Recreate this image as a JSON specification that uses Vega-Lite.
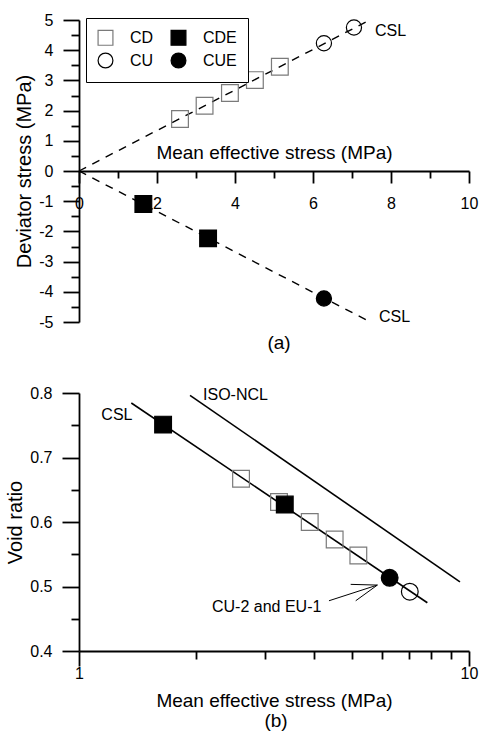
{
  "$schema": "https://vega.github.io/schema/vega-lite/v6.json",
  "background": "white",
  "padding": {"left": 5, "top": 12, "right": 5, "bottom": 0},
  "spacing": 32,
  "config": {
    "font": "Liberation Sans",
    "view": {"stroke": null},
    "axis": {"domainColor": "black", "tickColor": "black", "labelColor": "black", "titleColor": "black", "labelFontSize": 16, "titleFontSize": 19, "titleFontWeight": "normal", "grid": false, "domainWidth": 1.8, "tickWidth": 1.8, "labelFont": "Liberation Sans", "titleFont": "Liberation Sans"},
    "title": {"fontSize": 19, "fontWeight": "normal", "font": "Liberation Sans", "color": "black"},
    "legend": {"labelFont": "Liberation Sans", "labelColor": "black", "symbolStrokeWidth": 1.2}
  },
  "datasets": {
    "topPts": [
      {"test": "CD", "p": 2.59, "q": 1.72},
      {"test": "CD", "p": 3.22, "q": 2.16},
      {"test": "CD", "p": 3.87, "q": 2.58},
      {"test": "CD", "p": 4.51, "q": 3.01},
      {"test": "CD", "p": 5.15, "q": 3.45},
      {"test": "CU", "p": 6.28, "q": 4.23},
      {"test": "CU", "p": 7.05, "q": 4.75},
      {"test": "CDE", "p": 1.65, "q": -1.09},
      {"test": "CDE", "p": 3.31, "q": -2.23},
      {"test": "CUE", "p": 6.28, "q": -4.22}
    ],
    "topLines": [
      {"p": 0, "q": 0, "p2": 7.5, "q2": 5.03},
      {"p": 0, "q": 0, "p2": 7.5, "q2": -5.02}
    ],
    "topText": [
      {"label": "CSL", "p": 7.59, "q": 4.65},
      {"label": "CSL", "p": 7.69, "q": -4.82}
    ],
    "botPts": [
      {"test": "CD", "p": 2.603, "q": 0.667},
      {"test": "CD", "p": 3.257, "q": 0.631},
      {"test": "CD", "p": 3.905, "q": 0.600},
      {"test": "CD", "p": 4.524, "q": 0.573},
      {"test": "CD", "p": 5.203, "q": 0.548},
      {"test": "CU", "p": 7.05, "q": 0.492},
      {"test": "CDE", "p": 1.643, "q": 0.751},
      {"test": "CDE", "p": 3.37, "q": 0.627},
      {"test": "CUE", "p": 6.26, "q": 0.5135}
    ],
    "botLines": [
      {"name": "CSL", "p": 1.362, "q": 0.7845, "p2": 7.82, "q2": 0.4748},
      {"name": "ISO-NCL", "p": 1.926, "q": 0.7964, "p2": 9.48, "q2": 0.5073}
    ],
    "arrow": [
      {"p": 4.375, "q": 0.4779, "p2": 5.821, "q2": 0.5022},
      {"p": 4.973, "q": 0.5033, "p2": 5.821, "q2": 0.5022},
      {"p": 5.123, "q": 0.4779, "p2": 5.821, "q2": 0.5022}
    ],
    "botText": [
      {"label": "ISO-NCL", "p": 2.08, "q": 0.7964},
      {"label": "CSL", "p": 1.141, "q": 0.7666},
      {"label": "CU-2 and  EU-1", "p": 2.193, "q": 0.4686}
    ]
  },
  "resolve": {
    "scale": {"shape": "independent", "fill": "independent", "stroke": "independent"},
    "legend": {"shape": "independent", "fill": "independent", "stroke": "independent"}
  },
  "vconcat": [
    {
      "width": 390,
      "height": 302,
      "title": {"text": "(a)", "orient": "bottom", "offset": 4, "dx": 5},
      "encoding": {
        "x": {
          "field": "p", "type": "quantitative",
          "scale": {"domain": [0, 10], "nice": false, "zero": false},
          "axis": {
            "title": "Mean effective stress  (MPa)", "offset": -151,
            "values": [0, 1, 2, 3, 4, 5, 6, 7, 8, 9, 10],
            "labelExpr": "datum.value % 2 == 0 ? '' + datum.value : ''",
            "tickSize": {"condition": {"test": "datum.value % 2 == 0", "value": 12}, "value": 7},
            "labelPadding": 12, "labelOverlap": false, "labelFlush": false, "labelBound": false,
            "titleY": -19, "titleBaseline": "middle"
          }
        },
        "y": {
          "field": "q", "type": "quantitative",
          "scale": {"domain": [-5, 5], "nice": false, "zero": false},
          "axis": {
            "title": "Deviator stress  (MPa)", "titleFontSize": 20,
            "values": [-5, -4.5, -4, -3.5, -3, -2.5, -2, -1.5, -1, -0.5, 0, 0.5, 1, 1.5, 2, 2.5, 3, 3.5, 4, 4.5, 5],
            "labelExpr": "datum.value % 1 == 0 ? (datum.value < 0 ? '-' + abs(datum.value) : '' + datum.value) : ''",
            "tickSize": {"condition": {"test": "datum.value % 1 == 0", "value": 16}, "value": 8},
            "labelPadding": 10, "labelOverlap": false, "labelBound": false, "labelFlush": false
          }
        },
        "shape": {"field": "test", "type": "nominal", "scale": {"domain": ["CD", "CU", "CDE", "CUE"], "range": ["square", "circle", "square", "circle"]},
          "legend": {"orient": "none", "legendX": 7, "legendY": -2, "columns": 2, "title": null, "strokeColor": "black", "fillColor": "white", "padding": 11, "labelFontSize": 16, "rowPadding": 2, "columnPadding": 14, "labelOffset": 16, "symbolSize": 220}},
        "fill": {"field": "test", "type": "nominal", "scale": {"domain": ["CD", "CU", "CDE", "CUE"], "range": ["transparent", "transparent", "black", "black"]}},
        "stroke": {"field": "test", "type": "nominal", "scale": {"domain": ["CD", "CU", "CDE", "CUE"], "range": ["#7a7a7a", "black", "black", "black"]}}
      },
      "layer": [
        {
          "data": {"name": "topLines"},
          "mark": {"type": "rule", "color": "black", "strokeWidth": 1.4, "strokeDash": [8, 7]},
          "encoding": {"x2": {"field": "p2"}, "y2": {"field": "q2"}, "shape": null, "fill": null, "stroke": null}
        },
        {
          "data": {"name": "topPts"},
          "transform": [{"filter": "datum.test == 'CD' || datum.test == 'CDE'"}],
          "mark": {"type": "point", "strokeWidth": 1.2, "opacity": 1, "size": 280}
        },
        {
          "data": {"name": "topPts"},
          "transform": [{"filter": "datum.test == 'CU' || datum.test == 'CUE'"}],
          "mark": {"type": "point", "strokeWidth": 1.2, "opacity": 1, "size": 230}
        },
        {
          "data": {"name": "topText"},
          "mark": {"type": "text", "align": "left", "baseline": "middle", "fontSize": 16, "color": "black"},
          "encoding": {"text": {"field": "label"}, "shape": null, "fill": null, "stroke": null}
        }
      ]
    },
    {
      "width": 390,
      "height": 258,
      "title": {"text": "(b)", "orient": "bottom", "offset": 2, "dx": 2},
      "encoding": {
        "x": {
          "field": "p", "type": "quantitative",
          "scale": {"type": "log", "domain": [1, 10], "nice": false},
          "axis": {
            "title": "Mean effective stress (MPa)",
            "values": [1, 2, 3, 4, 5, 6, 7, 8, 9, 10],
            "labelExpr": "datum.value == 1 || datum.value == 10 ? '' + datum.value : ''",
            "tickSize": {"condition": {"test": "datum.value == 1 || datum.value == 10", "value": 15}, "value": 8},
            "labelPadding": -1, "labelOverlap": false, "labelFlush": false, "labelBound": false, "titlePadding": 10
          }
        },
        "y": {
          "field": "q", "type": "quantitative",
          "scale": {"domain": [0.4, 0.8], "nice": false, "zero": false},
          "axis": {
            "title": "Void ratio", "titleFontSize": 20,
            "values": [0.4, 0.45, 0.5, 0.55, 0.6, 0.65, 0.7, 0.75, 0.8],
            "labelExpr": "abs(datum.value * 10 - round(datum.value * 10)) < 0.001 ? format(datum.value, '.1f') : ''",
            "tickSize": {"condition": {"test": "abs(datum.value * 10 - round(datum.value * 10)) < 0.001", "value": 17}, "value": 8},
            "labelPadding": 10, "labelOverlap": false, "labelBound": false, "labelFlush": false
          }
        }
      },
      "layer": [
        {
          "data": {"name": "botLines"},
          "mark": {"type": "rule", "color": "black", "strokeWidth": 1.6},
          "encoding": {"x2": {"field": "p2"}, "y2": {"field": "q2"}}
        },
        {
          "data": {"name": "arrow"},
          "mark": {"type": "rule", "color": "black", "strokeWidth": 1},
          "encoding": {"x2": {"field": "p2"}, "y2": {"field": "q2"}}
        },
        {
          "data": {"name": "botPts"},
          "mark": {"type": "point", "strokeWidth": 1.2, "opacity": 1},
          "encoding": {
            "shape": {"field": "test", "type": "nominal", "scale": {"domain": ["CD", "CDE", "CU", "CUE"], "range": ["square", "square", "circle", "circle"]}, "legend": null},
            "fill": {"field": "test", "type": "nominal", "scale": {"domain": ["CD", "CDE", "CU", "CUE"], "range": ["transparent", "black", "transparent", "black"]}, "legend": null},
            "stroke": {"field": "test", "type": "nominal", "scale": {"domain": ["CD", "CDE", "CU", "CUE"], "range": ["#7a7a7a", "black", "black", "black"]}, "legend": null},
            "size": {"field": "test", "type": "nominal", "scale": {"domain": ["CD", "CDE", "CU", "CUE"], "range": [280, 280, 230, 230]}, "legend": null}
          }
        },
        {
          "data": {"name": "botText"},
          "mark": {"type": "text", "align": "left", "baseline": "middle", "fontSize": 16, "color": "black"},
          "encoding": {"text": {"field": "label"}}
        }
      ]
    }
  ]
}
